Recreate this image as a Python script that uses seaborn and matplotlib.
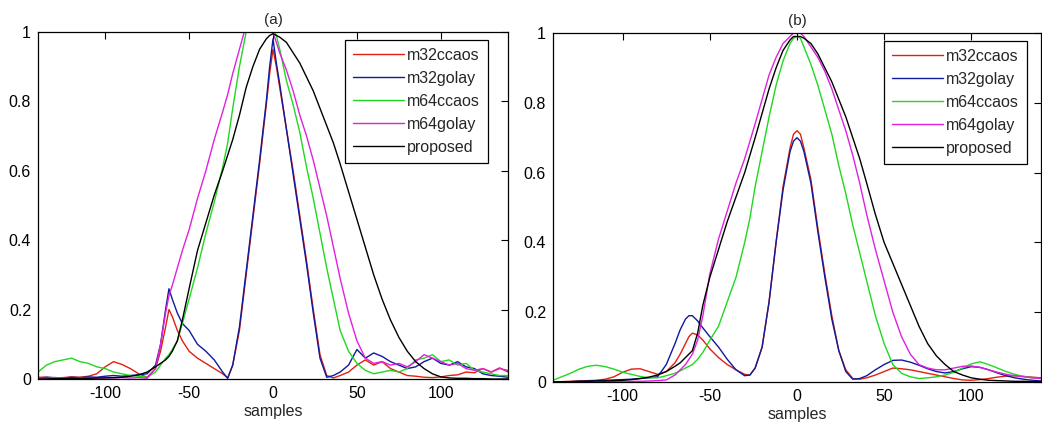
import matplotlib
matplotlib.use("Agg")
import matplotlib.pyplot as plt
from matplotlib.ticker import FormatStrFormatter
import seaborn as sns
import pandas as pd


# sample positions shared by every curve
samples = [-140, -135, -130, -125, -120, -115, -110, -105, -100, -95, -90, -85, -80, -75, -70,
           -67, -64, -62, -60, -57, -54, -50, -45, -40, -35, -30, -27, -24, -20, -16, -12, -8,
           -4, -2, 0, 2, 4, 8, 12, 16, 20, 24, 28, 32, 36, 40, 45, 50, 55, 60, 65, 70, 75, 80,
           85, 90, 95, 100, 105, 110, 115, 120, 125, 130, 135, 140]

methods = ['m32ccaos', 'm32golay', 'm64ccaos', 'm64golay', 'proposed']

# panel (a)
m32ccaos_a = [0.005, 0.005, 0.003, 0.004, 0.006, 0.005, 0.008, 0.015, 0.035, 0.05, 0.042, 0.03, 0.015, 0.005, 0.03,
              0.08, 0.15, 0.20, 0.18, 0.14, 0.11, 0.08, 0.06, 0.045, 0.03, 0.015, 0.003, 0.04, 0.14, 0.30, 0.46, 0.62,
              0.79, 0.88, 0.95, 0.90, 0.84, 0.72, 0.60, 0.47, 0.34, 0.20, 0.07, 0.01, 0.003, 0.01, 0.02, 0.04, 0.055, 0.04,
              0.05, 0.03, 0.02, 0.01, 0.008, 0.005, 0.004, 0.006, 0.01, 0.012, 0.02, 0.018, 0.03, 0.02, 0.032, 0.02]
m32golay_a = [0.003, 0.005, 0.004, 0.003, 0.005, 0.004, 0.006, 0.005, 0.008, 0.01, 0.008, 0.01, 0.012, 0.015, 0.04,
              0.10, 0.20, 0.26, 0.23, 0.19, 0.16, 0.14, 0.10, 0.08, 0.055, 0.02, 0.002, 0.04, 0.15, 0.31, 0.47, 0.63,
              0.80, 0.90, 0.98, 0.91, 0.85, 0.72, 0.59, 0.46, 0.33, 0.19, 0.06, 0.005, 0.01, 0.02, 0.04, 0.085, 0.06, 0.075,
              0.065, 0.05, 0.04, 0.03, 0.035, 0.05, 0.06, 0.045, 0.04, 0.05, 0.035, 0.03, 0.015, 0.01, 0.008, 0.005]
m64ccaos_a = [0.02, 0.04, 0.05, 0.055, 0.06, 0.05, 0.045, 0.035, 0.03, 0.02, 0.015, 0.01, 0.008, 0.005, 0.02,
              0.04, 0.06, 0.07, 0.085, 0.11, 0.16, 0.23, 0.32, 0.42, 0.51, 0.61, 0.68, 0.78, 0.90, 1.0, 1.05, 1.07,
              1.05, 1.03, 1.01, 0.99, 0.95, 0.86, 0.79, 0.71, 0.61, 0.52, 0.42, 0.32, 0.23, 0.14, 0.08, 0.045, 0.025, 0.015,
              0.02, 0.025, 0.02, 0.03, 0.055, 0.06, 0.07, 0.05, 0.055, 0.04, 0.045, 0.025, 0.02, 0.015, 0.01, 0.01]
m64golay_a = [0.003, 0.002, 0.004, 0.003, 0.002, 0.004, 0.003, 0.002, 0.004, 0.003, 0.004, 0.003, 0.004, 0.002, 0.03,
              0.10, 0.19, 0.24, 0.27, 0.32, 0.37, 0.43, 0.52, 0.60, 0.69, 0.77, 0.82, 0.88, 0.95, 1.02, 1.08, 1.10,
              1.07, 1.03, 1.0, 0.97, 0.94, 0.89, 0.83, 0.76, 0.70, 0.63, 0.55, 0.47, 0.38, 0.29, 0.19, 0.11, 0.06, 0.045,
              0.05, 0.04, 0.045, 0.035, 0.05, 0.07, 0.06, 0.05, 0.04, 0.045, 0.03, 0.025, 0.03, 0.02, 0.03, 0.025]
proposed_a = [0.0, 0.0, 0.001, 0.001, 0.002, 0.002, 0.002, 0.003, 0.003, 0.004, 0.005, 0.008, 0.012, 0.02, 0.035,
              0.045, 0.055, 0.065, 0.08, 0.11, 0.17, 0.26, 0.37, 0.45, 0.53, 0.60, 0.645, 0.69, 0.76, 0.84, 0.90, 0.95,
              0.98, 0.99, 0.995, 0.99, 0.985, 0.97, 0.94, 0.91, 0.87, 0.83, 0.78, 0.73, 0.68, 0.62, 0.54, 0.46, 0.38, 0.30,
              0.23, 0.17, 0.12, 0.08, 0.05, 0.03, 0.015, 0.006, 0.003, 0.002, 0.002, 0.001, 0.001, 0.0, 0.0, 0.0]

# panel (b)
m32ccaos_b = [0.0, 0.001, 0.002, 0.003, 0.004, 0.005, 0.008, 0.015, 0.028, 0.037, 0.038, 0.03, 0.022, 0.03, 0.055,
              0.08, 0.11, 0.13, 0.14, 0.135, 0.12, 0.095, 0.07, 0.05, 0.035, 0.022, 0.02, 0.04, 0.10, 0.23, 0.40, 0.56,
              0.67, 0.71, 0.72, 0.71, 0.67, 0.58, 0.44, 0.31, 0.19, 0.09, 0.035, 0.01, 0.008, 0.012, 0.02, 0.03, 0.04, 0.038,
              0.035, 0.03, 0.025, 0.02, 0.015, 0.01, 0.006, 0.005, 0.007, 0.01, 0.014, 0.017, 0.018, 0.016, 0.014, 0.012]
m32golay_b = [0.0, 0.0, 0.001, 0.002, 0.003, 0.004, 0.005, 0.006, 0.007, 0.008, 0.01, 0.012, 0.015, 0.05, 0.11,
              0.15, 0.18, 0.19, 0.19, 0.175, 0.155, 0.13, 0.10, 0.065, 0.035, 0.018, 0.02, 0.04, 0.10, 0.23, 0.40, 0.55,
              0.66, 0.69, 0.70, 0.69, 0.66, 0.57, 0.43, 0.30, 0.18, 0.09, 0.03, 0.008, 0.01, 0.018, 0.035, 0.05, 0.062, 0.063,
              0.057, 0.048, 0.038, 0.03, 0.026, 0.03, 0.038, 0.044, 0.042, 0.035, 0.026, 0.018, 0.012, 0.008, 0.005, 0.003]
m64ccaos_b = [0.005, 0.015, 0.025, 0.037, 0.045, 0.048, 0.044, 0.037, 0.028, 0.022, 0.016, 0.012, 0.012, 0.018, 0.025,
              0.032, 0.04, 0.045, 0.05, 0.065, 0.085, 0.12, 0.16, 0.23, 0.30, 0.40, 0.47, 0.56, 0.66, 0.76, 0.85, 0.92,
              0.97, 0.985, 0.99, 0.985, 0.96, 0.91, 0.85, 0.78, 0.71, 0.62, 0.54, 0.45, 0.37, 0.29, 0.19, 0.11, 0.05, 0.025,
              0.015, 0.01, 0.012, 0.015, 0.02, 0.028, 0.04, 0.052, 0.058, 0.05, 0.04, 0.03, 0.022, 0.016, 0.012, 0.01]
m64golay_b = [0.0, 0.0, 0.0, 0.001, 0.001, 0.001, 0.001, 0.002, 0.002, 0.002, 0.002, 0.003, 0.004, 0.006, 0.02,
              0.035, 0.05, 0.065, 0.08, 0.12, 0.19, 0.31, 0.41, 0.49, 0.57, 0.64, 0.69, 0.74, 0.81, 0.88, 0.93, 0.97,
              0.99, 1.0, 1.0, 1.0, 0.99, 0.96, 0.93, 0.89, 0.84, 0.78, 0.72, 0.65, 0.57, 0.48, 0.38, 0.29, 0.20, 0.13,
              0.08, 0.05, 0.04, 0.035, 0.035, 0.04, 0.045, 0.046, 0.042, 0.035, 0.028, 0.022, 0.018, 0.015, 0.012, 0.01]
proposed_b = [0.0, 0.001, 0.001, 0.002, 0.002, 0.003, 0.003, 0.004, 0.005, 0.007, 0.01, 0.014, 0.02, 0.03, 0.045,
              0.055, 0.07, 0.08, 0.09, 0.14, 0.22, 0.30, 0.38, 0.46, 0.53, 0.60, 0.65, 0.70, 0.77, 0.84, 0.90, 0.95,
              0.98, 0.99, 0.99, 0.99, 0.985, 0.97, 0.94, 0.90, 0.86, 0.81, 0.76, 0.70, 0.64, 0.57, 0.48, 0.40, 0.34, 0.28,
              0.22, 0.16, 0.11, 0.075, 0.05, 0.03, 0.02, 0.012, 0.008, 0.005, 0.004, 0.003, 0.002, 0.002, 0.001, 0.001]

colors = {'m32ccaos': '#e02010', 'm32golay': '#101a9a', 'm64ccaos': '#20d820',
          'm64golay': '#e020e0', 'proposed': '#000000'}


def _long_frame(series):
    rows = []
    for name, vals in zip(methods, series):
        rows.append(pd.DataFrame({'samples': samples, 'value': vals, 'method': name}))
    return pd.concat(rows, ignore_index=True)


def _draw_panel(ax, df, title, anchor):
    sns.lineplot(data=df, x='samples', y='value', hue='method', hue_order=methods,
                 palette=colors, linewidth=1.0, ax=ax, sort=False, estimator=None)
    ax.set_xlim(-140, 140)
    ax.set_ylim(0, 1)
    ax.set_xticks([-100, -50, 0, 50, 100])
    ax.set_yticks([0, 0.2, 0.4, 0.6, 0.8, 1.0])
    ax.yaxis.set_major_formatter(FormatStrFormatter('%g'))
    ax.tick_params(direction='in', top=True, right=True, length=5, width=0.8,
                   labelsize=11.5, colors='black', pad=5)
    for sp in ax.spines.values():
        sp.set_color('black')
        sp.set_linewidth(0.9)
    ax.set_xlabel('samples', fontsize=11.5, labelpad=2)
    ax.set_ylabel('')
    ax.set_title(title, fontsize=11, pad=6)
    handles, labels = ax.get_legend_handles_labels()
    ax.legend(handles, labels, loc='upper right', bbox_to_anchor=anchor,
              borderaxespad=0, fancybox=False, framealpha=1, edgecolor='black',
              fontsize=11.5, handlelength=3.2, labelspacing=0.5, handletextpad=0.2,
              borderpad=0.5)
    ax.get_legend().get_frame().set_linewidth(0.9)


sns.set_theme(style='white')
plt.rcParams['font.family'] = ['Liberation Sans', 'DejaVu Sans']
plt.rcParams['axes.unicode_minus'] = False

fig = plt.figure(figsize=(10.42, 4.32), dpi=100)
ax_a = fig.add_axes([0.0365, 0.1227, 0.451, 0.8033])
ax_b = fig.add_axes([0.5307, 0.1157, 0.4683, 0.8079])

df_a = _long_frame([m32ccaos_a, m32golay_a, m64ccaos_a, m64golay_a, proposed_a])
df_b = _long_frame([m32ccaos_b, m32golay_b, m64ccaos_b, m64golay_b, proposed_b])

_draw_panel(ax_a, df_a, '(a)', (0.957, 0.977))
_draw_panel(ax_b, df_b, '(b)', (0.971, 0.977))

fig.savefig('out.png', dpi=100)
